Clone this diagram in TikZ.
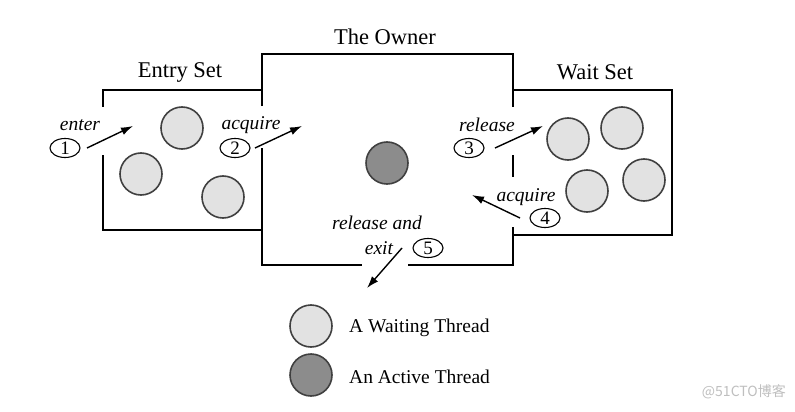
\documentclass[tikz,border=0pt]{standalone}
\usepackage{fontspec}
\setmainfont{Liberation Serif}
\newfontfamily\cjkwm{Noto Sans CJK SC}
\usetikzlibrary{arrows.meta,shapes.geometric}
\definecolor{waitfill}{HTML}{E2E2E2}
\definecolor{activefill}{HTML}{8C8C8C}
\definecolor{ringcol}{HTML}{404040}
\tikzset{
  boxline/.style={line width=1.8pt, black},
  waitthr/.style={circle, draw=ringcol, line width=1.6pt, fill=waitfill, minimum size=42pt, inner sep=0pt},
  activethr/.style={circle, draw=ringcol, line width=1.6pt, fill=activefill, minimum size=42pt, inner sep=0pt},
  setlabel/.style={font=\fontsize{22.5}{24}\selectfont, inner sep=0pt},
  actlabel/.style={font=\fontsize{19.5}{21}\selectfont\itshape, inner sep=0pt},
  numtag/.style={ellipse, draw=black, line width=1.1pt, minimum width=30pt, minimum height=19pt, inner sep=0pt, font=\fontsize{19}{19}\selectfont},
  legendtext/.style={font=\fontsize{19.5}{21}\selectfont, inner sep=0pt, anchor=west},
  flow/.style={line width=1.4pt, -{Latex[length=12pt,width=8pt]}},
}
\begin{document}
\begin{tikzpicture}[x=1pt,y=-1pt]
\useasboundingbox (0,0) rectangle (795,412);
\fill[white] (0,0) rectangle (795,412);

% boxes
\draw[boxline] (262,106) -- (262,54) -- (513,54) -- (513,107);
\draw[boxline] (262,90) -- (103,90) -- (103,107);
\draw[boxline] (103,155) -- (103,230) -- (262,230);
\draw[boxline] (262,148) -- (262,265) -- (362,265);
\draw[boxline] (408,265) -- (513,265) -- (513,227);
\draw[boxline] (513,235) -- (672,235) -- (672,90) -- (513,90);
\draw[boxline] (513,155) -- (513,177);

% titles
\node[setlabel] (tOwner) at (385,37) {The Owner};
\node[setlabel] (tEntry) at (180,72) {Entry Set};
\node[setlabel] (tWait) at (595,72) {Wait Set};

% threads
\node[waitthr] (e1) at (182,128) {};
\node[waitthr] (e2) at (141,174) {};
\node[waitthr] (e3) at (223,197) {};
\node[activethr] (own) at (387,163) {};
\node[waitthr] (w1) at (568,139) {};
\node[waitthr] (w2) at (622,128) {};
\node[waitthr] (w3) at (587,191) {};
\node[waitthr] (w4) at (644,180) {};

% labels and tags
\node[actlabel] (l1) at (80,125) {enter};
\node[numtag] (n1) at (65,148) {1};
\node[actlabel] (l2) at (251,125) {acquire};
\node[numtag] (n2) at (235,148) {2};
\node[actlabel] (l3) at (487,125) {release};
\node[numtag] (n3) at (469,148) {3};
\node[actlabel] (l4) at (526,197) {acquire};
\node[numtag] (n4) at (545,218) {4};
\node[actlabel] (l5a) at (377,223) {release and};
\node[actlabel] (l5b) at (379,248) {exit};
\node[numtag] (n5) at (428,248) {5};

% arrow endpoints
\coordinate (a1s) at (87,148);  \coordinate (a1e) at (133,126);
\coordinate (a2s) at (255,148); \coordinate (a2e) at (302,126);
\coordinate (a3s) at (495,148); \coordinate (a3e) at (543,126);
\coordinate (a4s) at (520,218); \coordinate (a4e) at (472,195);
\coordinate (a5s) at (402,248); \coordinate (a5e) at (367,288);
\draw[flow] (a1s) -- (a1e);
\draw[flow] (a2s) -- (a2e);
\draw[flow] (a3s) -- (a3e);
\draw[flow] (a4s) -- (a4e);
\draw[flow] (a5s) -- (a5e);

% legend
\node[waitthr] (lgw) at (311,326) {};
\node[activethr] (lga) at (311,375) {};
\node[legendtext] (lgwt) at (349,328) {A Waiting Thread};
\node[legendtext] (lgat) at (349,377) {An Active Thread};

% watermark
\node[font=\cjkwm\fontsize{14}{14}\selectfont, text=black!25, anchor=east, inner sep=0pt] (wm) at (786,392) {@51CTO博客};
\end{tikzpicture}
\end{document}
